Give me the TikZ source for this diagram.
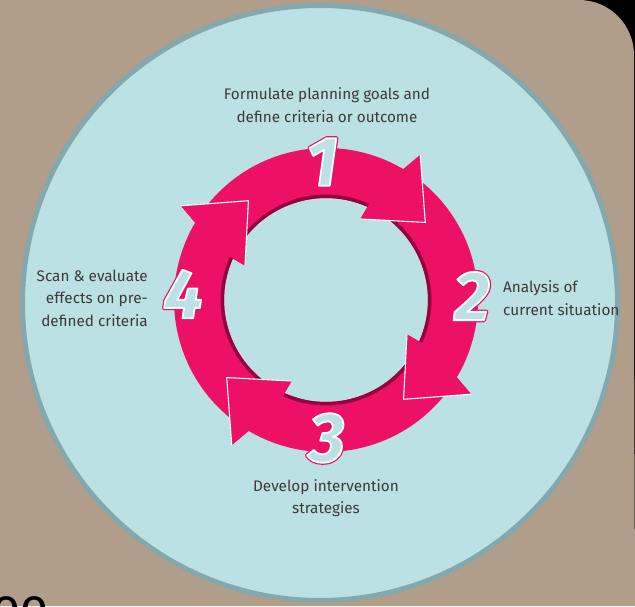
\documentclass[tikz,border=0pt]{standalone}
\usepackage{fontspec}
\setmainfont{Fira Sans}
\usepackage{tikz}
\usetikzlibrary{calc}
\definecolor{taupe}{RGB}{176,158,138}
\definecolor{circfill}{RGB}{187,225,228}
\definecolor{circline}{RGB}{132,168,172}
\definecolor{ringred}{RGB}{236,17,100}
\definecolor{ringshade}{RGB}{150,0,62}
\definecolor{labelgrey}{RGB}{64,56,56}
\tikzset{
  lbl/.style={font=\fontsize{15.3}{22.5}\selectfont,text=labelgrey,inner sep=0pt},
  numbg/.style={font=\fontsize{70}{70}\selectfont\bfseries\itshape,text=ringred,inner sep=0pt},
  numfg/.style={numbg,text=circfill},
  headedge/.style={draw=white,line width=1.1pt,line join=round},
}
% outlined digits: text render mode 2 (fill + stroke)
\newcommand{\strokedigit}[3]{\special{pdf:literal direct 2 Tr #2 w 1 j #3 RG}#1\special{pdf:literal direct 0 Tr}}

\begin{document}
\begin{tikzpicture}[x=1pt,y=1pt]
  \useasboundingbox (0,0) rectangle (635,606);
  \clip (0,0) rectangle (635,606);
  \fill[black] (0,0) rectangle (635,606);
  \fill[taupe] (0,0) -- (0,606) -- (560,606) [rounded corners=55] -- (634,606)
    -- (634,300) [sharp corners] -- (635,0) -- cycle;

  % big disc
  \coordinate (big) at (320,303);
  \draw[draw=circline,fill=circfill,line width=5pt] (big) circle[radius=297.5];

  % ring of four arrows
  \coordinate (c) at (326,306);
  \foreach \k in {0,...,3}{
    \begin{scope}[shift={(c)},rotate=-90*\k]
      \fill[ringred] (144:152) arc[start angle=144,end angle=59.4,radius=152]
        -- (57:173) -- (38:126) -- (67:88) -- (66:102)
        arc[start angle=66,end angle=151,radius=102] -- cycle;
      \draw[ringshade,line width=3.5pt] (66:103.7) arc[start angle=66,end angle=151,radius=103.7];
    \end{scope}
  }
  \foreach \k in {0,...,3}{
    \begin{scope}[shift={(c)},rotate=-90*\k]
      \fill[ringred] (59.4:152) -- (57:173) -- (38:126) -- (67:88) -- (66:102) -- cycle;
      \draw[headedge] (57:173) -- (38:126) -- (67:88);
    \end{scope}
  }

  % step numbers
  \foreach \n/\x/\y in {1/322/444,2/472/310,3/327/168,4/183/312}{
    \node[numbg] (b\n) at (\x,\y) {\strokedigit{\n}{4.2}{0.925 0.067 0.392}};
    \node[numfg] (n\n) at (\x,\y) {\strokedigit{\n}{1.8}{1 1 1}};
  }

  % labels
  \node[lbl,align=center] (goal) at (327,501) {Formulate planning goals and\\define criteria or outcome};
  \node[lbl,align=left,anchor=west] (anal) at (503,308) {Analysis of\\current situation};
  \node[lbl,align=right,anchor=east] (scan) at (148,308) {Scan \& evaluate\\effects on pre-\\defined criteria};
  \node[lbl,align=center] (dev) at (326,108) {Develop intervention\\strategies};

  \node[anchor=base west,font=\fontsize{48}{48}\selectfont,text=black,inner sep=0pt] (cut) at (-8,-16) {oo};
\end{tikzpicture}
\end{document}
